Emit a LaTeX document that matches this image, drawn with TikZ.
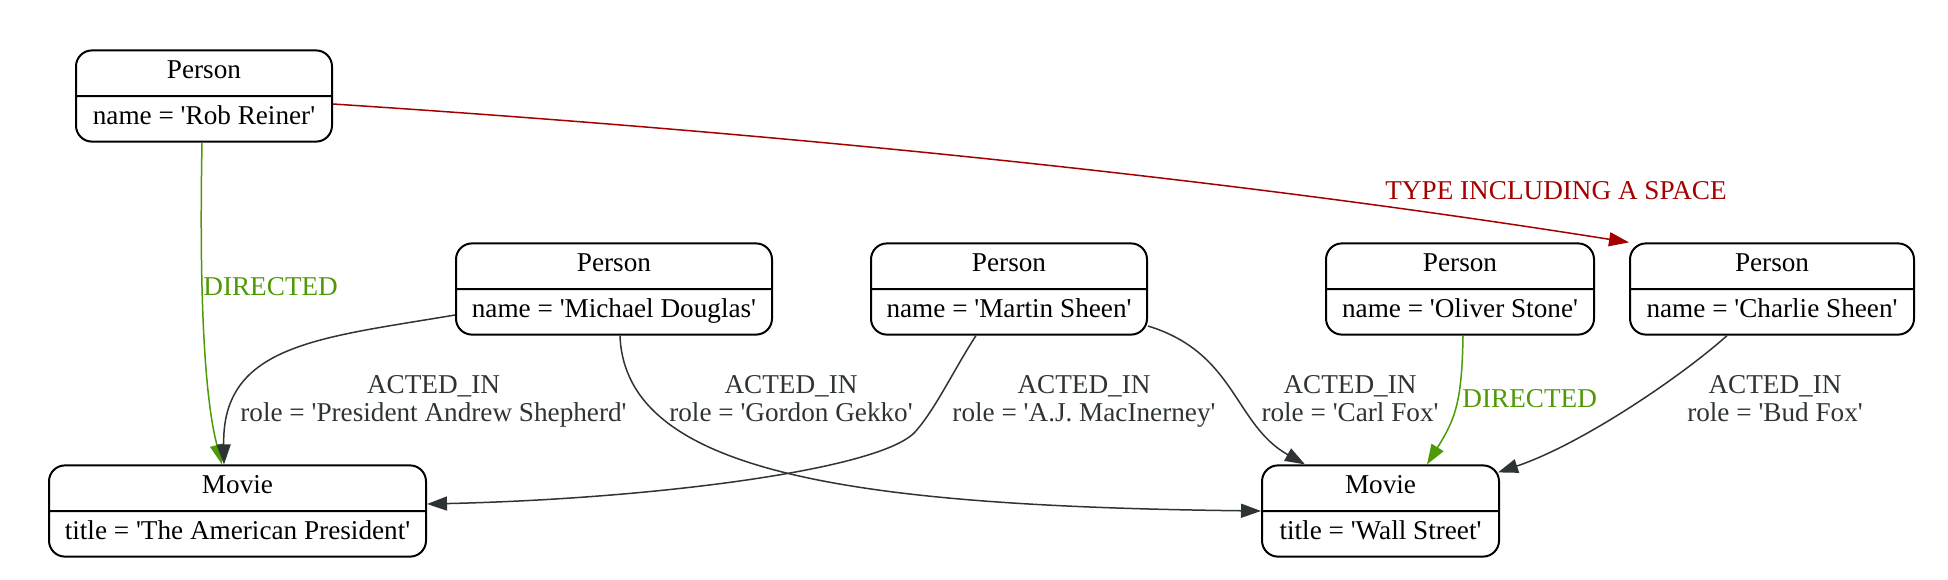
\documentclass[tikz,border=0pt]{standalone}
\usepackage{fontspec}
\setmainfont{Liberation Serif}[Ligatures=TeXOff]
\usepackage{tikz}
\usetikzlibrary{shapes.multipart}
\usetikzlibrary{arrows.meta}
\usetikzlibrary{calc}

\definecolor{edgegray}{HTML}{2E3436}
\definecolor{dirgreen}{HTML}{4E9A06}
\definecolor{typered}{HTML}{A40000}

\newcommand{\entity}[2]{\strut #1\nodepart{two}\strut #2}

\begin{document}
\begin{tikzpicture}[x=0.5pt, y=-0.5pt,
      every node/.style={font=\fontsize{13.6}{14}\selectfont},
      entity/.style={rectangle split, rectangle split parts=2, draw, line width=1pt,
                     rounded corners=8pt, inner xsep=4pt, inner ysep=3.9pt},
      rel/.style={draw=edgegray, line width=0.75pt, -{Triangle[length=10pt,width=7pt]}},
      rellabel/.style={text=edgegray, inner sep=0pt, align=center, anchor=north}]
	  \useasboundingbox (0,0) rectangle (1948,579);

	  % people
	  \node [entity, minimum width=128pt] (rob) at (204,96) {\entity{Person}{name = 'Rob Reiner'}};
	  \node [entity, minimum width=158pt] (michael) at (614,289) {\entity{Person}{name = 'Michael Douglas'}};
	  \node [entity, minimum width=138pt] (martin) at (1009,289) {\entity{Person}{name = 'Martin Sheen'}};
	  \node [entity, minimum width=134pt] (oliver) at (1460,289) {\entity{Person}{name = 'Oliver Stone'}};
	  \node [entity, minimum width=142pt] (charlie) at (1772,289) {\entity{Person}{name = 'Charlie Sheen'}};

	  % movies
	  \node [entity, minimum width=188.5pt] (president) at (237.5,511) {\entity{Movie}{title = 'The American President'}};
	  \node [entity, minimum width=118.5pt] (wallst) at (1380.5,511) {\entity{Movie}{title = 'Wall Street'}};

	  % relationships
	  \draw [rel, draw=dirgreen] ($(rob.south)+(-2,0)$) .. controls +(-3,160) and +(-17,-65) .. ($(president.north)+(-15.5,0)$);
	  \draw [rel, draw=typered] ($(rob.east)+(0,8)$) .. controls +(475,31) and +(-391,-62) .. (charlie.north west);
	  \draw [rel] ($(michael.west)+(0,26)$) .. controls +(-136,23) and +(-2,-120) .. ($(president.north)+(-13.5,0)$);
	  \draw [rel] ($(michael.south)+(6,0)$) .. controls +(5,137) and +(-412,-5) .. (wallst.west);
	  \draw [rel] ($(martin.south)+(-33,0)$) .. controls +(-21,32) and +(20,-22) .. (915,432)
	       .. controls +(-35,38) and +(224,-5) .. ($(president.east)+(0,-7)$);
	  \draw [rel] ($(martin.east)+(0,37)$) .. controls +(88,27) and +(-71,-40) .. ($(wallst.north west)+(44,0)$);
	  \draw [rel, draw=dirgreen] ($(oliver.south)+(3,0)$) .. controls +(-1,67) and +(28,-45) .. ($(wallst.north)+(46.5,0)$);
	  \draw [rel] ($(charlie.south)+(-45,0)$) .. controls +(-47,42) and +(83,-28) .. ($(wallst.north east)+(-2,8)$);

	  % labels
	  \node [anchor=base, text=typered, inner sep=0pt] (lbltype) at (1556,199) {TYPE INCLUDING A SPACE};
	  \node [anchor=base west, text=dirgreen, inner sep=0pt] (lbldirrob) at (203,295) {DIRECTED};
	  \node [anchor=base west, text=dirgreen, inner sep=0pt] (lbldiroliver) at (1462,407) {DIRECTED};
	  \node [rellabel] (lblshepherd) at (433.5,375) {ACTED\_IN\\role = 'President Andrew Shepherd'};
	  \node [rellabel] (lblgekko) at (791,375) {ACTED\_IN\\role = 'Gordon Gekko'};
	  \node [rellabel] (lblmacinerney) at (1084,375) {ACTED\_IN\\role = 'A.J. MacInerney'};
	  \node [rellabel] (lblcarl) at (1350,375) {ACTED\_IN\\role = 'Carl Fox'};
	  \node [rellabel] (lblbud) at (1775,375) {ACTED\_IN\\role = 'Bud Fox'};
\end{tikzpicture}
\end{document}
